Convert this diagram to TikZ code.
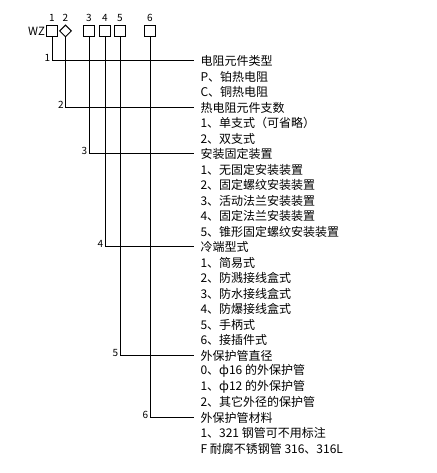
\documentclass[tikz,border=0pt]{standalone}
\usepackage{fontspec}
\setmainfont{Noto Sans CJK SC}
\usetikzlibrary{shapes.geometric, positioning}

\begin{document}
\begin{tikzpicture}[
  x=0.75pt, y=-0.75pt, line width=0.75pt,
  codebox/.style={draw, minimum size=8.25pt, inner sep=0pt},
  codedia/.style={draw, diamond, aspect=1, minimum width=9pt, minimum height=9pt, inner sep=0pt},
  num/.style={inner sep=0.5pt, font=\fontsize{7.5}{9}\selectfont},
  item/.style={anchor=west, inner xsep=4.5pt, inner ysep=0.5pt, font=\fontsize{9}{11}\selectfont}
]
  \useasboundingbox (0,0) rectangle (436,473);

  % model code boxes
  \node[codebox] (b1) at (52,31) {};
  \node[codedia] (b2) at (65.5,31) {};
  \node[codebox] (b3) at (89,31) {};
  \node[codebox] (b4) at (105,31) {};
  \node[codebox] (b5) at (120,31) {};
  \node[codebox] (b6) at (150,31) {};
  \node[num, anchor=east, font=\fontsize{8.5}{10}\selectfont] (wz) at (b1.west) {WZ};
  \foreach \i in {1,...,6}
    \node[num, anchor=south, yshift=1.5pt] (t\i) at (b\i |- b1.north) {\i};

  % headers
  \node[item] (h1) at (194,61) {电阻元件类型};
  \node[item] (h2) at (194,107.5) {热电阻元件支数};
  \node[item] (h3) at (194,154) {安装固定装置};
  \node[item] (h4) at (194,247) {冷端型式};
  \node[item] (h5) at (194,355.5) {外保护管直径};
  \node[item] (h6) at (194,417.5) {外保护管材料};

  % options under each header
  \foreach \r/\t [count=\k] in {
      1/{P、铂热电阻}, 2/{C、铜热电阻},
      4/{1、单支式（可省略）}, 5/{2、双支式},
      7/{1、无固定安装装置}, 8/{2、固定螺纹安装装置}, 9/{3、活动法兰安装装置},
      10/{4、固定法兰安装装置}, 11/{5、锥形固定螺纹安装装置},
      13/{1、简易式}, 14/{2、防溅接线盒式}, 15/{3、防水接线盒式},
      16/{4、防爆接线盒式}, 17/{5、手柄式}, 18/{6、接插件式},
      20/{0、ф16 的外保护管}, 21/{1、ф12 的外保护管}, 22/{2、其它外径的保护管},
      24/{1、321 钢管可不用标注}, 25/{F 耐腐不锈钢管 316、316L}}
    \node[item] (o\k) at (194,{61+15.5*\r}) {\t};

  % connectors from code positions to headers
  \foreach \i in {1,...,6} {
    \draw (b\i.south) |- (h\i.west);
    \node[num, anchor=east, xshift=-0.5pt, yshift=2.25pt] (n\i) at (b\i |- h\i.west) {\i};
  }
\end{tikzpicture}
\end{document}
